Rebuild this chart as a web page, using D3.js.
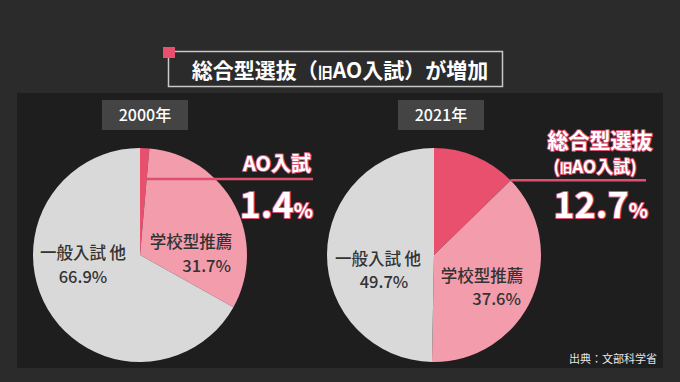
<!DOCTYPE html>
<html>
<head>
<meta charset="utf-8">
<script src="https://cdn.jsdelivr.net/npm/d3@7"></script>
<style>
  body { margin: 0; background: #2b2b2b; }
  text { font-family: "Noto Sans CJK JP", "Noto Sans", sans-serif; }
</style>
</head>
<body>
<div id="plot"></div>
<script>
// data
const categories = ["AO入試", "学校型推薦", "一般入試 他"];
const years = ["2000年", "2021年"];
const values2000 = [1.4, 31.7, 66.9];
const values2021 = [12.7, 37.6, 49.7];
const colors = ["#e8506e", "#f29cac", "#d9d9d9"];

const w = 680;
const h = 382;
const radius = 107;

const svg = d3.select("#plot")
  .append("svg")
    .attr("width", w)
    .attr("height", h);

// background
svg.append("rect")
    .attr("width", w)
    .attr("height", h)
    .attr("fill", "#2b2b2b");

svg.append("rect")
    .attr("x", 17)
    .attr("y", 93)
    .attr("width", 646)
    .attr("height", 275)
    .attr("fill", "#1e1e1e");

// title box
svg.append("rect")
    .attr("x", 168.5)
    .attr("y", 51.5)
    .attr("width", 334)
    .attr("height", 35)
    .attr("fill", "none")
    .attr("stroke", "#c8c8c8")
    .attr("stroke-width", 1.5);

svg.append("rect")
    .attr("x", 163)
    .attr("y", 47)
    .attr("width", 12)
    .attr("height", 11)
    .attr("fill", "#e8506e");

const title = svg.append("text")
    .attr("x", 340)
    .attr("y", 78)
    .attr("text-anchor", "middle")
    .attr("fill", "#fff")
    .attr("font-size", 21)
    .attr("font-weight", 700);
title.append("tspan").text("総合型選抜");
title.append("tspan").text("（");
title.append("tspan").attr("font-size", 15).text("旧");
title.append("tspan").text("AO入試）が増加");

// pies
const pie = d3.pie().sort(null).value(d => d);
const arc = d3.arc().innerRadius(0).outerRadius(radius);

const charts = [
  {year: years[0], values: values2000, cx: 140, cy: 255, boxX: 102},
  {year: years[1], values: values2021, cx: 434, cy: 255, boxX: 398}
];

charts.forEach(c => {
  const g = svg.append("g")
      .attr("transform", `translate(${c.cx}, ${c.cy})`);
  g.selectAll("path")
    .data(pie(c.values))
    .enter().append("path")
      .attr("d", arc)
      .attr("fill", (d, i) => colors[i]);

  svg.append("rect")
      .attr("x", c.boxX)
      .attr("y", 100)
      .attr("width", 86)
      .attr("height", 30)
      .attr("fill", "#444444");
  svg.append("text")
      .attr("x", c.boxX + 43)
      .attr("y", 121)
      .attr("text-anchor", "middle")
      .attr("fill", "#fff")
      .attr("font-size", 16)
      .attr("font-weight", 500)
      .text(c.year);
});

// slice labels
const labelColor = "#333";
function label(x, y, str, anchor) {
  svg.append("text")
      .attr("x", x)
      .attr("y", y)
      .attr("text-anchor", anchor)
      .attr("fill", labelColor)
      .attr("font-size", 16.5)
      .attr("font-weight", 500)
      .text(str);
}
label(83, 259, categories[2], "middle");
label(83, 283, values2000[2].toFixed(1) + "%", "middle");
label(191, 248, categories[1], "middle");
label(231, 272, values2000[1].toFixed(1) + "%", "end");

label(378, 265, categories[2], "middle");
label(384, 288, values2021[2].toFixed(1) + "%", "middle");
label(482, 282, categories[1], "middle");
label(521, 305, values2021[1].toFixed(1) + "%", "end");

// annotations
const pink = "#e0506e";

// left: leader line from AO / school boundary
const a0 = pie(values2000)[0].endAngle;
const yL = 179;
const xL = 140 + (255 - yL) * Math.tan(a0);
svg.append("line")
    .attr("x1", xL).attr("y1", yL)
    .attr("x2", 313).attr("y2", yL)
    .attr("stroke", pink)
    .attr("stroke-width", 2.5);

// right: leader line from arc point
const a1 = pie(values2021)[0].endAngle;
const xR = 434 + radius * Math.sin(a1);
const yR = 255 - radius * Math.cos(a1);
svg.append("line")
    .attr("x1", xR).attr("y1", yR)
    .attr("x2", 646).attr("y2", yR)
    .attr("stroke", pink)
    .attr("stroke-width", 2.5);

function outlined(x, y, size, anchor) {
  return svg.append("text")
      .attr("x", x)
      .attr("y", y)
      .attr("text-anchor", anchor)
      .attr("fill", "#fff")
      .attr("stroke", pink)
      .attr("stroke-width", 2)
      .attr("paint-order", "stroke")
      .attr("stroke-linejoin", "round")
      .attr("font-size", size)
      .attr("font-weight", 700);
}

outlined(311, 171, 20, "end").text(categories[0]);
const p1 = outlined(313, 218, 36, "end");
p1.append("tspan").text(values2000[0].toFixed(1));
p1.append("tspan").attr("font-size", 20).text("%");

outlined(600, 148, 21, "middle").text("総合型選抜");
const sub = outlined(595, 173, 17, "middle");
sub.append("tspan").text("(");
sub.append("tspan").attr("font-size", 12.5).text("旧");
sub.append("tspan").text("AO入試)");
const p2 = outlined(648, 218, 36, "end");
p2.append("tspan").text(values2021[0].toFixed(1));
p2.append("tspan").attr("font-size", 20).text("%");

// source
svg.append("text")
    .attr("x", 657)
    .attr("y", 363)
    .attr("text-anchor", "end")
    .attr("fill", "#e6e6e6")
    .attr("font-size", 11)
    .text("出典：文部科学省");
</script>
</body>
</html>
